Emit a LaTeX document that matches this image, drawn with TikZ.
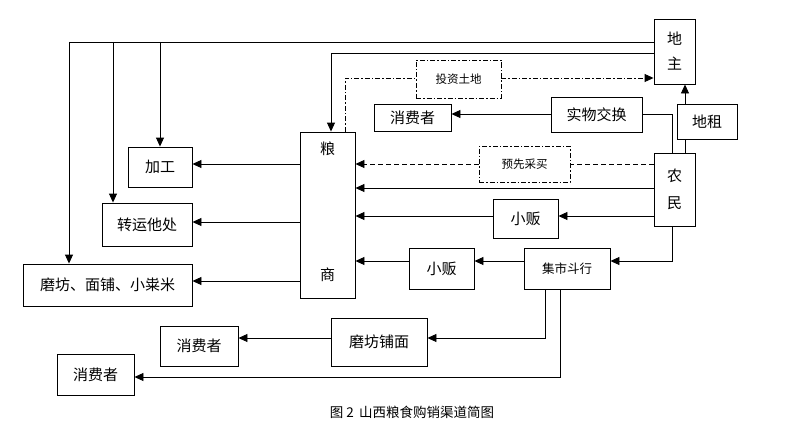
\documentclass[tikz,border=0pt]{standalone}
\usepackage{fontspec}
\setmainfont{Noto Sans CJK SC}
\usetikzlibrary{arrows.meta}
\begin{document}
\begin{tikzpicture}[x=1pt,y=-1pt,
  box/.style={draw,line width=0.9pt,inner sep=0pt,font=\fontsize{15}{17}\selectfont},
  dbox/.style={draw,line width=0.8pt,inner sep=0pt,dash pattern=on 5pt off 2pt on 1.5pt off 2pt,font=\fontsize{11.5}{13}\selectfont},
  ln/.style={line width=0.9pt},
  arr/.style={ln,-{Triangle[length=9pt,width=8pt]}},
  dda/.style={line width=0.9pt,dash pattern=on 5pt off 2pt on 1.5pt off 2pt,-{Triangle[length=9pt,width=8pt]}},
  dsa/.style={line width=0.9pt,dash pattern=on 5pt off 3pt,-{Triangle[length=9pt,width=8pt]}}]
\useasboundingbox (0,0) rectangle (800,436);
\node[box,minimum width=41,minimum height=65,align=center,font=\fontsize{15}{25}\selectfont] (dz) at (674.5,51.5) {地\\主};
\node[box,minimum width=60,minimum height=35] (dzu) at (707,121.5) {地租};
\node[box,minimum width=41,minimum height=73,align=center,font=\fontsize{15}{27}\selectfont] (nm) at (674.5,189.5) {农\\民};
\node[box,minimum width=91,minimum height=35] (swjh) at (596.5,114.5) {实物交换};
\node[box,minimum width=77,minimum height=27] (xf1) at (412.5,117.5) {消费者};
\node[dbox,minimum width=85,minimum height=38] (tz) at (458.5,79) {投资土地};
\node[dbox,minimum width=91,minimum height=36] (yx) at (524.5,164) {预先采买};
\node[box,minimum width=55,minimum height=166] (ls) at (327.5,215) {};
\node[font=\fontsize{15}{17}\selectfont] (ls1) at (327.5,149) {粮};
\node[font=\fontsize{15}{17}\selectfont] (ls2) at (327.5,275) {商};
\node[box,minimum width=65,minimum height=39] (xb1) at (525.5,218.5) {小贩};
\node[box,minimum width=65,minimum height=41] (xb2) at (441.5,268.5) {小贩};
\node[box,minimum width=86,minimum height=41,font=\fontsize{12.5}{14}\selectfont] (js) at (567,268.5) {集市斗行};
\node[box,minimum width=64,minimum height=40] (jg) at (160,167) {加工};
\node[box,minimum width=90,minimum height=43] (zy) at (147,224.5) {转运他处};
\node[box,minimum width=169,minimum height=42] (mf) at (107.5,285) {磨坊、面铺、小粜米};
\node[box,minimum width=96,minimum height=48] (mfpm) at (379,342) {磨坊铺面};
\node[box,minimum width=78,minimum height=40] (xf2) at (199,346) {消费者};
\node[box,minimum width=77,minimum height=41] (xf3) at (95.5,374.5) {消费者};
\node[font=\fontsize{13.5}{15}\selectfont] (cap) at (412,412) {图 2\, 山西粮食购销渠道简图};
% top lines
\coordinate (t1) at (69,42); \coordinate (t2) at (113,42); \coordinate (t3) at (160,42);
\draw[ln] (dz.west |- 0,42) -- (t1);
\draw[arr] (t1) -- (mf.north -| t1);
\draw[arr] (t2) -- (zy.north -| t2);
\draw[arr] (t3) -- (jg.north -| t3);
\coordinate (c2) at (331,53);
\draw[arr] (dz.west |- 0,53) -- (c2) -- (ls.north -| c2);
\coordinate (c3) at (345,78);
\draw[line width=0.9pt,dash pattern=on 5pt off 2pt on 1.5pt off 2pt] (ls.north -| c3) -- (c3) -- (tz.west |- c3);
\draw[dda] (tz.east |- c3) -- (dz.west |- c3);
% left outputs
\draw[arr] (ls.west |- 0,164) -- (jg.east |- 0,164);
\draw[arr] (ls.west |- 0,222) -- (zy.east |- 0,222);
\draw[arr] (ls.west |- 0,281) -- (mf.east |- 0,281);
% right side
\draw[arr] (swjh.west |- 0,114) -- (xf1.east |- 0,114);
\coordinate (c4) at (672,114);
\draw[ln] (swjh.east |- c4) -- (c4) -- (nm.north -| c4);
\draw[ln] (nm.north -| 685,0) -- (dzu.south -| 685,0);
\draw[arr] (dzu.north -| 685,0) -- (dz.south -| 685,0);
\draw[line width=0.9pt,dash pattern=on 5pt off 3pt] (nm.west |- 0,164) -- (yx.east |- 0,164);
\draw[dsa] (yx.west |- 0,164) -- (ls.east |- 0,164);
\draw[arr] (nm.west |- 0,188) -- (ls.east |- 0,188);
\draw[arr] (nm.west |- 0,216) -- (xb1.east |- 0,216);
\draw[arr] (xb1.west |- 0,216) -- (ls.east |- 0,216);
\coordinate (c5) at (672,261);
\draw[arr] (nm.south -| c5) -- (c5) -- (js.east |- c5);
\draw[arr] (js.west |- 0,261) -- (xb2.east |- 0,261);
\draw[arr] (xb2.west |- 0,261) -- (ls.east |- 0,261);
\coordinate (c6) at (545,338); \coordinate (c7) at (560,377);
\draw[arr] (js.south -| c6) -- (c6) -- (mfpm.east |- c6);
\draw[arr] (mfpm.west |- c6) -- (xf2.east |- c6);
\draw[arr] (js.south -| c7) -- (c7) -- (xf3.east |- c7);
\end{tikzpicture}
\end{document}
